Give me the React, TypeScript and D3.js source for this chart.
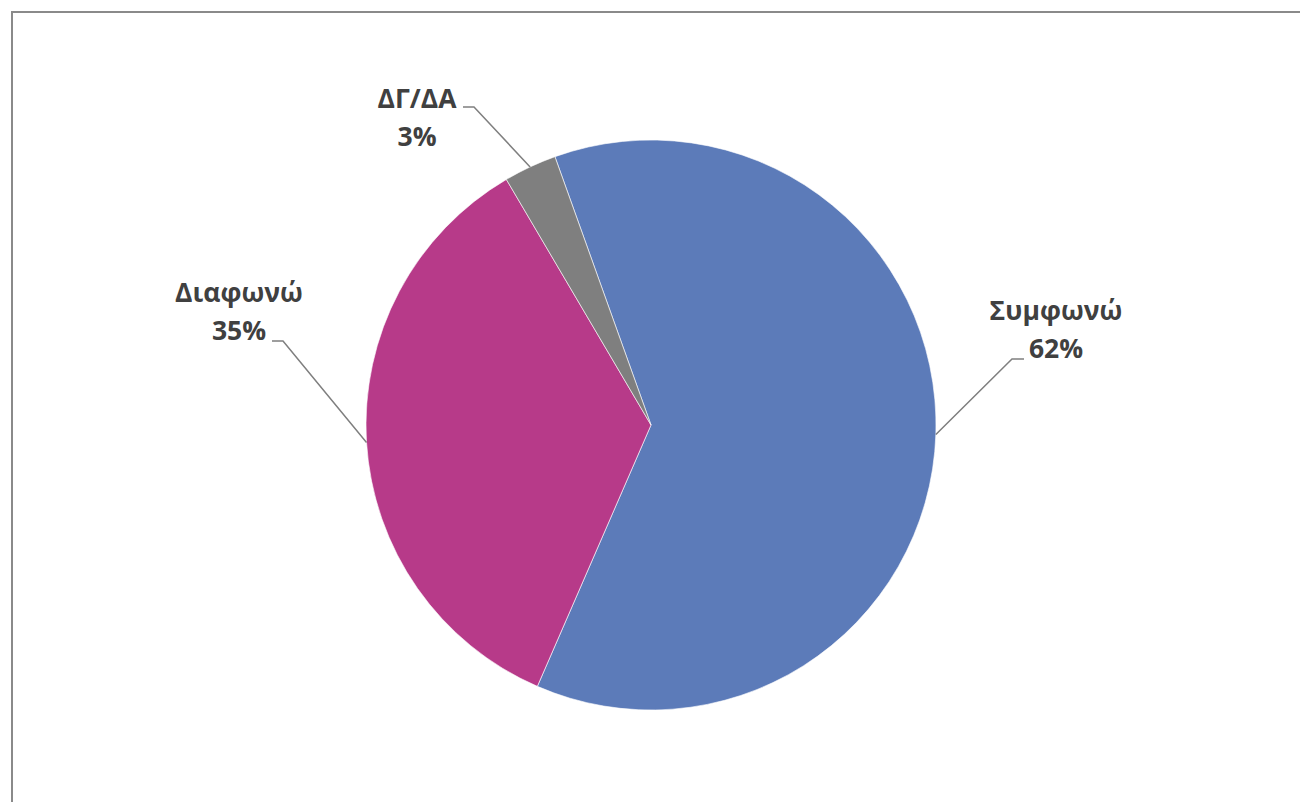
import React from "react";
import * as d3 from "d3";

const categories = ["Συμφωνώ", "Διαφωνώ", "ΔΓ/ΔΑ"];
const values = [62, 35, 3];
const colors = ["#5C7BB9", "#B73A89", "#7F7F7F"];
// label layout (text center, baseline of first line, elbow point)
const labelPos = [
  { x: 1056, y: 320, ex: 1012, ey: 359, hx: 1024 },
  { x: 239, y: 302, ex: 283, ey: 341, hx: 272 },
  { x: 417, y: 108, ex: 474, ey: 107, hx: 463 },
];

const W = 1300, H = 802;
const cx = 651, cy = 425, R = 285;
const startDeg = -19.7;

export default function App() {
  const start = (startDeg * Math.PI) / 180;
  const pie = d3.pie<number>().sort(null).startAngle(start).endAngle(start + 2 * Math.PI);
  const arcs = pie(values);
  const arc = d3.arc<d3.PieArcDatum<number>>().innerRadius(0).outerRadius(R);
  const total = d3.sum(values);
  const fmt = d3.format(".0%");
  return (
    <svg width={W} height={H} style={{ position: "absolute", left: 0, top: 0 }} fontFamily="'Open Sans', sans-serif">
      <rect x={0} y={0} width={W} height={H} fill="#fff" />
      <rect x={12} y={12} width={W + 20} height={H + 20} fill="none" stroke="#8a8a8a" strokeWidth={2} />
      <g transform={`translate(${cx},${cy})`}>
        {arcs.map((a, i) => (
          <path key={i} d={arc(a) || ""} fill={colors[i]} stroke="#ffffff" strokeOpacity={0.6} strokeWidth={1} />
        ))}
      </g>
      {arcs.map((a, i) => {
        const mid = (a.startAngle + a.endAngle) / 2;
        const px = cx + R * Math.sin(mid);
        const py = cy - R * Math.cos(mid);
        const lp = labelPos[i];
        return (
          <g key={i}>
            <polyline points={`${px},${py} ${lp.ex},${lp.ey} ${lp.hx},${lp.ey}`} fill="none" stroke="#7f7f7f" strokeWidth={1.5} />
            <text x={lp.x} y={lp.y} textAnchor="middle" fontSize={26.5} fontWeight="bold" fill="#404040">
              {categories[i]}
            </text>
            <text x={lp.x} y={lp.y + 38} textAnchor="middle" fontSize={26.5} fontWeight="bold" fill="#404040">
              {fmt(values[i] / total)}
            </text>
          </g>
        );
      })}
    </svg>
  );
}
